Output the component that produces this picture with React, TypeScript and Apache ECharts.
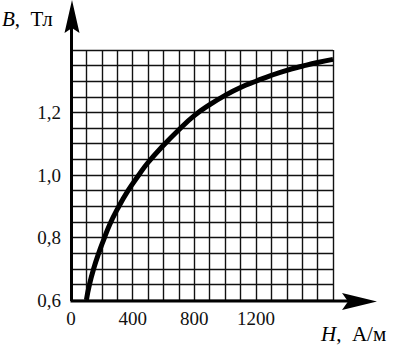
import React, { useEffect, useRef } from "react";
import * as echarts from "echarts";

// Magnetization curve B(H)
const fieldH = [100, 120, 150, 180, 210, 250, 300, 370, 440, 500, 600, 700, 800, 900, 1000, 1100, 1200, 1300, 1400, 1500, 1600, 1700];
const inductionB = [0.6, 0.65, 0.705, 0.75, 0.79, 0.84, 0.89, 0.95, 1.0, 1.04, 1.095, 1.145, 1.19, 1.225, 1.255, 1.28, 1.3, 1.319, 1.335, 1.348, 1.36, 1.37];
const xTickLabels = [0, 400, 800, 1200];
const yTickLabels = [0.6, 0.8, 1.0, 1.2];
const yAxisName = "Тл";
const xAxisName = "А/м";

export default function App() {
  const ref = useRef<HTMLDivElement>(null);
  useEffect(() => {
    if (!ref.current) return;
    const chart = echarts.init(ref.current, null, { renderer: "svg" });
    const font = "'Liberation Serif', 'Times New Roman', serif";
    const L = 71.5, Bm = 300;
    chart.setOption({
      animation: false,
      backgroundColor: "#fff",
      grid: { left: 71, right: 61, top: 50, bottom: 45, outerBoundsMode: "none" },
      xAxis: {
        type: "value",
        min: 0,
        max: 1700,
        interval: 100,
        axisLine: { show: false },
        axisTick: { show: false },
        splitLine: { show: true, lineStyle: { color: "#111", width: 1.4 } },
        axisLabel: {
          margin: 9,
          fontFamily: font,
          fontSize: 19,
          color: "#111",
          formatter: (v: number) => (xTickLabels.some((t) => Math.abs(t - v) < 1e-6) ? String(v) : ""),
        },
      },
      yAxis: {
        type: "value",
        min: 0.6,
        max: 1.4,
        interval: 0.05,
        axisLine: { show: false },
        axisTick: { show: false },
        splitLine: { show: true, lineStyle: { color: "#111", width: 1.4 } },
        axisLabel: {
          margin: 10,
          fontFamily: font,
          fontSize: 19,
          color: "#111",
          formatter: (v: number) => {
            const t = yTickLabels.find((t) => Math.abs(t - v) < 1e-6);
            return t === undefined ? "" : t.toFixed(1).replace(".", ",");
          },
        },
      },
      series: [
        {
          type: "line",
          smooth: 0.5,
          symbol: "none",
          data: fieldH.map((h, i) => [h, inductionB[i]]),
          lineStyle: { color: "#000", width: 5 },
          z: 5,
        },
      ],
      graphic: [
        { type: "line", shape: { x1: L, y1: Bm + 1, x2: L, y2: 28 }, style: { stroke: "#000", lineWidth: 3 }, z: 10 },
        { type: "line", shape: { x1: L - 1, y1: Bm + 1, x2: 348, y2: Bm + 1 }, style: { stroke: "#000", lineWidth: 3 }, z: 10 },
        { type: "polygon", shape: { points: [[L + 0.5, 0], [L + 8, 33], [L + 0.5, 28], [L - 7, 33]] }, style: { fill: "#000" }, z: 10 },
        { type: "polygon", shape: { points: [[377, Bm + 1.5], [342, Bm - 7], [348, Bm + 1.5], [342, Bm + 10]] }, style: { fill: "#000" }, z: 10 },
        {
          type: "text",
          x: 2,
          y: 8,
          style: {
            text: "{i|B},  " + yAxisName,
            fontFamily: font,
            fontSize: 21,
            fill: "#000",
            rich: { i: { fontStyle: "italic", fontFamily: font, fontSize: 21 } },
          },
        },
        {
          type: "text",
          x: 321,
          y: 323,
          style: {
            text: "{i|H},  " + xAxisName,
            fontFamily: font,
            fontSize: 21,
            fill: "#000",
            rich: { i: { fontStyle: "italic", fontFamily: font, fontSize: 21 } },
          },
        },
      ],
    });
    return () => chart.dispose();
  }, []);
  return <div ref={ref} style={{ position: "fixed", left: 0, top: 0, width: 394, height: 345 }} />;
}
